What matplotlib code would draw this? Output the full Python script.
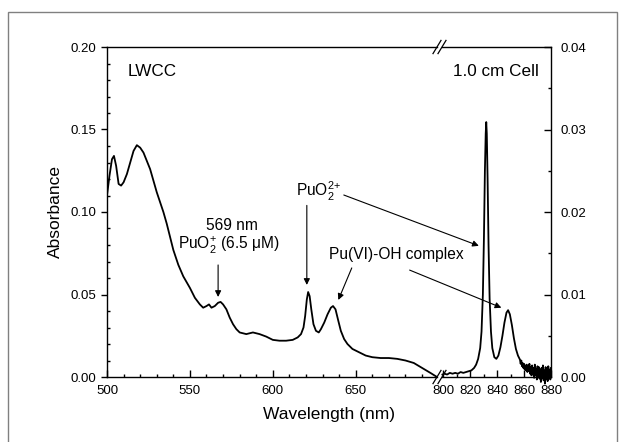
import matplotlib
matplotlib.use("Agg")
import matplotlib.pyplot as plt
from matplotlib.ticker import MultipleLocator, FormatStrFormatter
from matplotlib.patches import Rectangle

plt.rcParams['font.family'] = ['Liberation Sans', 'DejaVu Sans']
plt.rcParams['mathtext.fontset'] = 'custom'
plt.rcParams['mathtext.rm'] = 'Liberation Sans'
plt.rcParams['mathtext.it'] = 'Liberation Sans:italic'

# LWCC spectrum, 500-700 nm (left axis)
lwcc_wl = [500, 501.5, 503, 504.2, 505.5, 507, 508.5, 510, 512, 514, 516, 518, 520, 522, 524,
           526, 528, 530, 532, 534, 536, 538, 540, 543, 546, 550, 553, 556, 558, 560, 561.5,
           563, 565, 567, 568.5, 570, 572, 574, 576, 578, 580, 584, 588, 592, 596, 600, 604,
           608, 612, 615, 617, 618.5, 619.5, 620.5, 621.3, 622.2, 623.2, 624.5, 626, 627.7,
           629, 631, 633, 635, 636.3, 637.8, 639.5, 641, 643, 645, 648, 652, 656, 660, 665,
           670, 675, 680, 685, 690, 695, 699]
lwcc_abs = [0.110, 0.122, 0.132, 0.134, 0.128, 0.117, 0.116, 0.118, 0.123, 0.130, 0.137, 0.1405,
            0.139, 0.136, 0.131, 0.126, 0.119, 0.112, 0.106, 0.100, 0.093, 0.085, 0.077, 0.068,
            0.061, 0.054, 0.048, 0.044, 0.042, 0.043, 0.044, 0.042, 0.043, 0.045, 0.0455, 0.044,
            0.041, 0.036, 0.032, 0.029, 0.027, 0.026, 0.027, 0.026, 0.0245, 0.0225, 0.022, 0.022,
            0.0225, 0.024, 0.026, 0.030, 0.037, 0.047, 0.0515, 0.049, 0.041, 0.032, 0.028, 0.027,
            0.029, 0.033, 0.038, 0.042, 0.043, 0.041, 0.034, 0.028, 0.023, 0.020, 0.017, 0.015,
            0.013, 0.012, 0.0115, 0.0115, 0.011, 0.010, 0.0085, 0.0055, 0.0025, 0.0]

# 1.0 cm cell spectrum, 800-880 nm (right axis)
cell_wl = [799.5, 801, 803, 805, 807, 809, 811, 813, 815, 817, 819, 821, 823, 824.5, 826, 827.5,
           828.5, 829.5, 830.3, 831, 831.6, 832, 832.4, 833, 833.7, 834.5, 835.5, 836.5, 838,
           839.5, 841, 842.5, 844, 845.5, 847, 848.2, 849.5, 851, 852.5, 854, 855.5,
           857.0, 857.5, 858.0, 858.5, 859.0, 859.5, 860.0, 860.5, 861.0, 861.5, 862.0, 862.5,
           863.0, 863.5, 864.0, 864.5, 865.0, 865.5, 866.0, 866.5, 867.0, 867.5, 868.0, 868.5,
           869.0, 869.5, 870.0, 870.5, 871.0, 871.5, 872.0, 872.5, 873.0, 873.5, 874.0, 874.5,
           875.0, 875.5, 876.0, 876.5, 877.0, 877.5, 878.0, 878.5, 879.0, 879.5, 880.0]
cell_abs = [0.0003, 0.0004, 0.0003, 0.0005, 0.0004, 0.0005, 0.0004, 0.0006, 0.0005, 0.0006,
            0.0007, 0.0008, 0.0011, 0.0015, 0.0022, 0.0035, 0.0055, 0.0100, 0.0170, 0.0250,
            0.0295, 0.0309, 0.0295, 0.0240, 0.0160, 0.0095, 0.0055, 0.0035, 0.0024, 0.0022,
            0.0026, 0.0036, 0.0050, 0.0066, 0.0078, 0.0081, 0.0076, 0.0063, 0.0047, 0.0034,
            0.0026,
            0.0021, 0.0016, 0.0020, 0.0013, 0.0017, 0.0011, 0.0016, 0.0009, 0.0014, 0.0008,
            0.0015, 0.0006, 0.0013, 0.0007, 0.0016, 0.0004, 0.0012, 0.0002, 0.0014, 0.0003,
            0.0011, -0.0001, 0.0015, 0.0002, 0.0010, -0.0003, 0.0013, 0.0000, 0.0012, -0.0002,
            0.0009, -0.0006, 0.0011, -0.0001, 0.0014, -0.0004, 0.0008, -0.0008, 0.0012, -0.0002,
            0.0010, -0.0005, 0.0013, 0.0001, 0.0009, -0.0003, 0.0011]

W, H = 626, 442
fig = plt.figure(figsize=(W / 100, H / 100), dpi=100)

# outer grey frame
fig.patches.append(Rectangle((8 / W, -0.05), 609 / W, 1.05 - 12 / H, transform=fig.transFigure,
                             fill=False, edgecolor='#808080', lw=1.0))

ax1 = fig.add_axes([107 / W, 65 / H, 330 / W, 330 / H])
ax2 = fig.add_axes([442 / W, 65 / H, 109 / W, 330 / H])
for ax in (ax1, ax2):
    ax.set_facecolor('none')
    for s in ax.spines.values():
        s.set_linewidth(1.0)

ax1.plot(lwcc_wl, lwcc_abs, color='black', lw=1.3)
ax2.plot(cell_wl, cell_abs, color='black', lw=1.3, clip_on=False)

ax1.set_xlim(500, 699)
ax1.set_ylim(0, 0.20)
ax2.set_xlim(799.2, 880)
ax2.set_ylim(0, 0.04)

ax1.spines['right'].set_visible(False)
ax2.spines['left'].set_visible(False)

ax1.xaxis.set_major_locator(MultipleLocator(50))
ax1.xaxis.set_minor_locator(MultipleLocator(10))
ax1.yaxis.set_major_locator(MultipleLocator(0.05))
ax1.yaxis.set_minor_locator(MultipleLocator(0.01))
ax1.yaxis.set_major_formatter(FormatStrFormatter('%.2f'))
ax2.xaxis.set_major_locator(MultipleLocator(20))
ax2.xaxis.set_minor_locator(MultipleLocator(10))
ax2.yaxis.set_major_locator(MultipleLocator(0.01))
ax2.yaxis.set_minor_locator(MultipleLocator(0.005))
ax2.yaxis.set_major_formatter(FormatStrFormatter('%.2f'))
ax2.yaxis.tick_right()

for ax in (ax1, ax2):
    ax.tick_params(axis='x', which='major', direction='in', length=5, width=1, labelsize=9.5, pad=6)
    ax.tick_params(axis='x', which='minor', direction='in', length=2.5, width=1)
ax1.tick_params(axis='y', which='major', direction='out', length=4, width=1, labelsize=9.5, pad=4)
ax1.tick_params(axis='y', which='minor', direction='in', length=2.5, width=1)
ax2.tick_params(axis='y', which='major', direction='in', length=5, width=1, labelsize=9.5, pad=7,
                left=False, right=True)
ax2.tick_params(axis='y', which='minor', direction='in', length=2.5, width=1, left=False, right=True)

ax1.set_ylabel('Absorbance', fontsize=12.5, labelpad=5)
fig.text(329 / W, 1 - 415 / H, 'Wavelength (nm)', fontsize=12.5, ha='center', va='center')

# break marks
kw = dict(color='black', lw=0.9, clip_on=False)
for ax, xs, dx in ((ax1, 1.0, 4 / 330), (ax2, 0.0, 4 / 109)):
    for yb in (0.0, 1.0):
        ax.plot([xs - dx, xs + dx], [yb - 0.02, yb + 0.02], transform=ax.transAxes, **kw)

# labels
ax1.text(512.5, 0.185, 'LWCC', fontsize=12.3, ha='left', va='center')
ax2.text(871.2, 0.037, '1.0 cm Cell', fontsize=12.3, ha='right', va='center')
ax1.text(575.6, 0.0921, '569 nm', fontsize=11.2, ha='center', va='center')
ax1.text(573.5, 0.0795, r'PuO$_2^{{+}}$ (6.5 μM)', fontsize=11.2, ha='center', va='center')
ax1.text(627.4, 0.1125, r'PuO$_2^{2{+}}$', fontsize=11.2, ha='center', va='center')
ax1.text(674.7, 0.0745, 'Pu(VI)-OH complex', fontsize=11.2, ha='center', va='center')

ap = dict(arrowstyle='-|>', color='black', lw=0.8, mutation_scale=9, shrinkA=0, shrinkB=0)
ax1.annotate('', xy=(567, 0.0485), xytext=(567, 0.0679), arrowprops=ap)
ax1.annotate('', xy=(620.5, 0.0558), xytext=(620.5, 0.104), arrowprops=ap)
ax1.annotate('', xy=(639.5, 0.0467), xytext=(647.6, 0.0661), arrowprops=ap)
ax2.annotate('', xy=(826.5, 0.0159), xycoords='data', xytext=(642.8, 0.1103),
             textcoords=ax1.transData, arrowprops=ap, annotation_clip=False)
ax2.annotate('', xy=(843.2, 0.0084), xycoords='data', xytext=(682.5, 0.0648),
             textcoords=ax1.transData, arrowprops=ap, annotation_clip=False)

fig.savefig('out.png', dpi=100)
